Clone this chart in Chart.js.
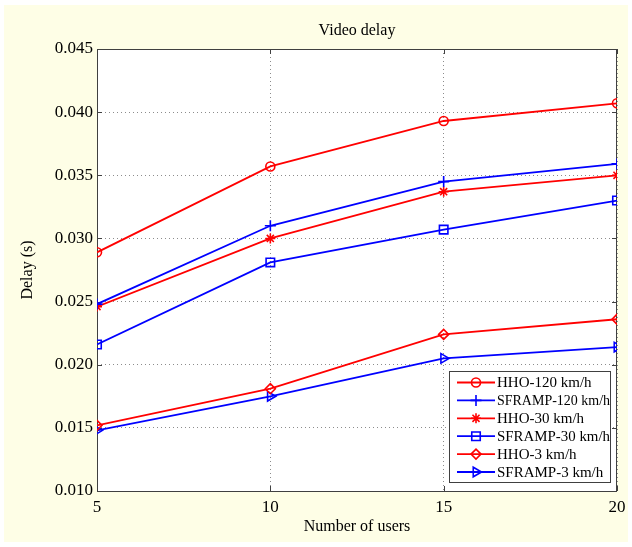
<!DOCTYPE html>
<html>
<head>
<meta charset="utf-8">
<script src="https://cdn.jsdelivr.net/npm/chart.js@4/dist/chart.umd.min.js"></script>
<style>
  html, body { margin: 0; padding: 0; background: #fff; }
  #wrap { width: 632px; height: 547px; }
</style>
</head>
<body>
<div id="wrap"><canvas id="delayChart" width="632" height="547"></canvas></div>
<script>
// data
const users = [5, 10, 15, 20];
const hho120 = [0.0289, 0.0357, 0.0393, 0.0407];
const sframp120 = [0.0248, 0.0310, 0.0345, 0.0359];
const hho30 = [0.0246, 0.0300, 0.0337, 0.0350];
const sframp30 = [0.0216, 0.0281, 0.0307, 0.0330];
const hho3 = [0.0152, 0.0181, 0.0224, 0.0236];
const sframp3 = [0.0148, 0.0175, 0.0205, 0.0214];
const yTicks = [0.010, 0.015, 0.020, 0.025, 0.030, 0.035, 0.040, 0.045];
const xTicks = [5, 10, 15, 20];

const RED = '#ff0000';
const BLUE = '#0000ff';
const SERIF = "'Liberation Serif', 'Times New Roman', serif";

function toPoints(vals) {
  return vals.map((v, i) => ({ x: users[i], y: v }));
}

function series(label, vals, color, style, radius, rotation) {
  return {
    label: label,
    data: toPoints(vals),
    borderColor: color,
    backgroundColor: color,
    borderWidth: 1.8,
    pointStyle: style,
    pointRadius: radius,
    pointRotation: rotation || 0,
    pointBorderColor: color,
    pointBackgroundColor: 'rgba(0,0,0,0)',
    pointBorderWidth: 1.6,
    tension: 0
  };
}

// background, plot frame, inward ticks, title and legend
const matlabLook = {
  id: 'matlabLook',
  beforeDraw(chart) {
    const ctx = chart.ctx;
    const a = chart.chartArea;
    ctx.save();
    ctx.fillStyle = '#ffffff';
    ctx.fillRect(0, 0, chart.width, chart.height);
    ctx.fillStyle = '#fefee6';
    ctx.fillRect(4, 5, chart.width - 8, chart.height - 10);
    ctx.fillStyle = '#ffffff';
    ctx.fillRect(a.left, a.top, a.right - a.left, a.bottom - a.top);
    ctx.restore();
  },
  beforeDatasetsDraw(chart) {
    const ctx = chart.ctx;
    const a = chart.chartArea;
    const xs = chart.scales.x;
    const ys = chart.scales.y;
    ctx.save();
    ctx.strokeStyle = '#404040';
    ctx.lineWidth = 1;
    ctx.strokeRect(a.left + 0.5, a.top + 0.5, a.right - a.left - 1, a.bottom - a.top);
    ctx.beginPath();
    xTicks.forEach(t => {
      const px = Math.round(xs.getPixelForValue(t)) + 0.5;
      ctx.moveTo(px, a.bottom); ctx.lineTo(px, a.bottom - 5);
      ctx.moveTo(px, a.top); ctx.lineTo(px, a.top + 5);
    });
    yTicks.forEach(t => {
      const py = Math.round(ys.getPixelForValue(t)) + 0.5;
      ctx.moveTo(a.left, py); ctx.lineTo(a.left + 5, py);
      ctx.moveTo(a.right, py); ctx.lineTo(a.right - 5, py);
    });
    ctx.stroke();

    ctx.fillStyle = '#000';
    ctx.font = '16px ' + SERIF;
    ctx.textAlign = 'center';
    ctx.textBaseline = 'middle';
    ctx.fillText('Video delay', (a.left + a.right) / 2, 31);
    ctx.restore();
  },
  afterDraw(chart) {
    const ctx = chart.ctx;
    const box = { left: 449, top: 371, right: 611, bottom: 483 };
    const rowH = 17.9;
    ctx.save();
    ctx.fillStyle = '#ffffff';
    ctx.fillRect(box.left, box.top, box.right - box.left, box.bottom - box.top);
    ctx.strokeStyle = '#404040';
    ctx.lineWidth = 1;
    ctx.strokeRect(box.left + 0.5, box.top + 0.5, box.right - box.left - 1, box.bottom - box.top - 1);
    chart.data.datasets.forEach((ds, i) => {
      const y = box.top + 11.5 + i * rowH;
      ctx.strokeStyle = ds.borderColor;
      ctx.lineWidth = ds.borderWidth;
      ctx.beginPath();
      ctx.moveTo(457, y);
      ctx.lineTo(495, y);
      ctx.stroke();
      ctx.lineWidth = ds.pointBorderWidth;
      ctx.fillStyle = ds.pointBackgroundColor;
      Chart.helpers.drawPoint(ctx, {
        pointStyle: ds.pointStyle,
        rotation: ds.pointRotation,
        radius: ds.pointRadius,
        borderWidth: ds.pointBorderWidth
      }, 476, y);
      ctx.fillStyle = '#000';
      ctx.font = '15px ' + SERIF;
      ctx.textAlign = 'left';
      ctx.textBaseline = 'middle';
      ctx.fillText(ds.label, 497, y + 1, box.right - 498);
    });
    ctx.restore();
  }
};

new Chart(document.getElementById('delayChart'), {
  type: 'line',
  data: {
    datasets: [
      series('HHO-120 km/h', hho120, RED, 'circle', 4.5),
      series('SFRAMP-120 km/h', sframp120, BLUE, 'cross', 5.5),
      series('HHO-30 km/h', hho30, RED, 'star', 5),
      series('SFRAMP-30 km/h', sframp30, BLUE, 'rect', 6),
      series('HHO-3 km/h', hho3, RED, 'rectRot', 5),
      series('SFRAMP-3 km/h', sframp3, BLUE, 'triangle', 5.5, 90)
    ]
  },
  plugins: [matlabLook],
  options: {
    responsive: false,
    animation: false,
    layout: { padding: { top: 49, right: 15, bottom: 0, left: 0 } },
    plugins: {
      legend: { display: false },
      title: { display: false },
      tooltip: { enabled: false }
    },
    scales: {
      x: {
        type: 'linear',
        min: 5,
        max: 20,
        afterFit(scale) { scale.height = 56; },
        afterBuildTicks(scale) { scale.ticks = xTicks.map(v => ({ value: v })); },
        ticks: {
          color: '#000',
          font: { family: SERIF, size: 17 },
          padding: 6,
          maxRotation: 0
        },
        grid: { color: '#8c8c8c', lineWidth: 1, drawTicks: false },
        border: { display: false, dash: [1, 3] },
        title: {
          display: true,
          text: 'Number of users',
          color: '#000',
          font: { family: SERIF, size: 16 },
          padding: { top: 0, bottom: 11 }
        }
      },
      y: {
        type: 'linear',
        min: 0.010,
        max: 0.045,
        afterFit(scale) { scale.width = 97; },
        afterBuildTicks(scale) { scale.ticks = yTicks.map(v => ({ value: v })); },
        ticks: {
          color: '#000',
          font: { family: SERIF, size: 17 },
          padding: 4,
          callback: v => v.toFixed(3)
        },
        grid: { color: '#8c8c8c', lineWidth: 1, drawTicks: false },
        border: { display: false, dash: [1, 3] },
        title: {
          display: true,
          text: 'Delay (s)',
          color: '#000',
          font: { family: SERIF, size: 16 },
          padding: { top: 18, bottom: 0 }
        }
      }
    }
  }
});
</script>
</body>
</html>
